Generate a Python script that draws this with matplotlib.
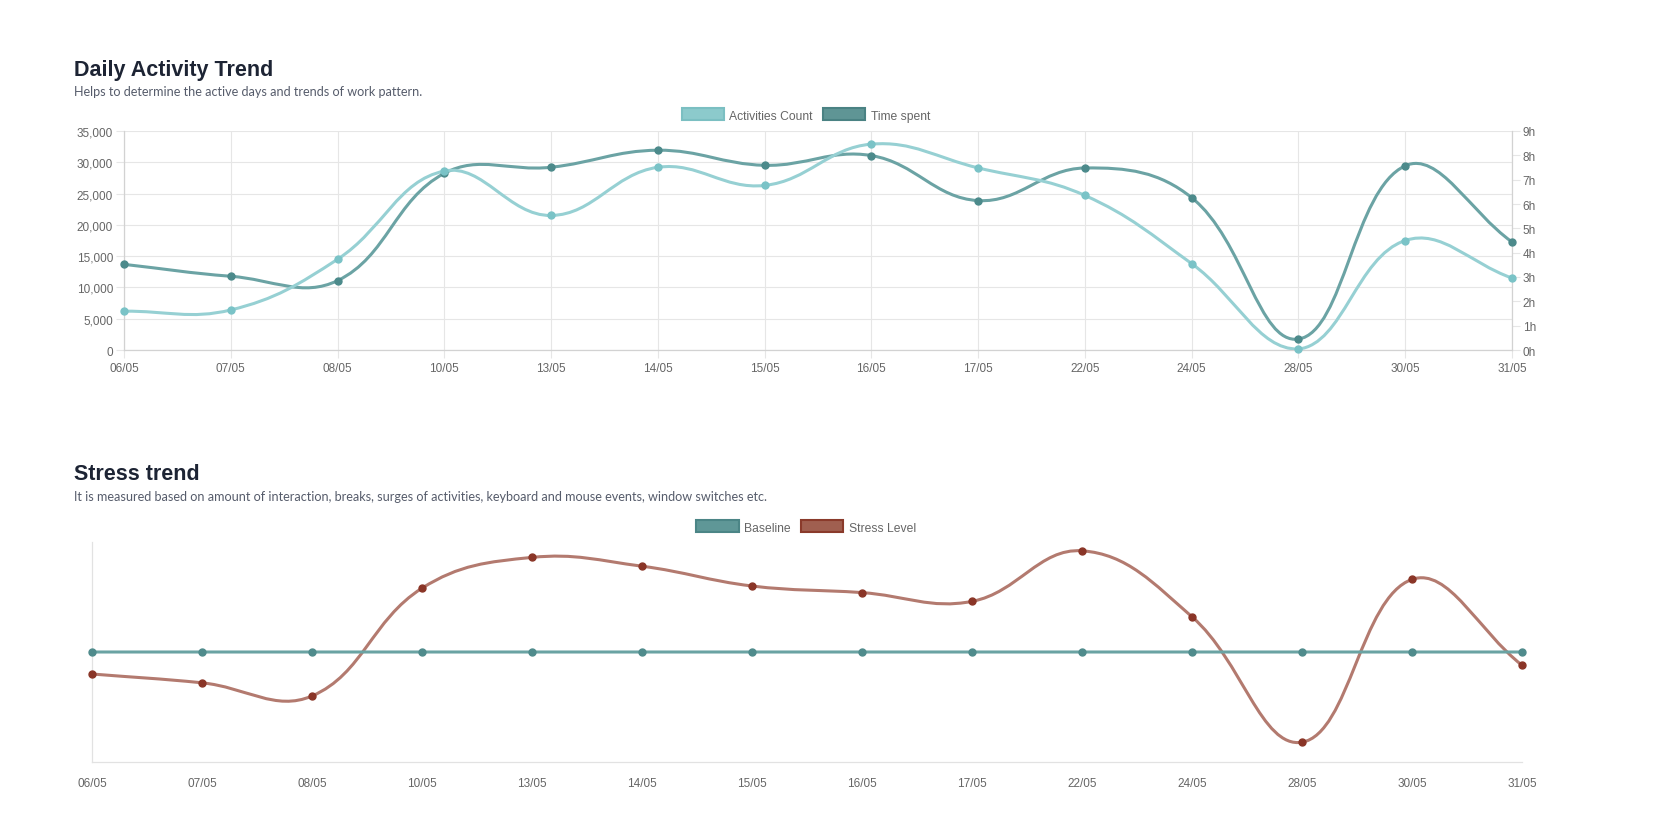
import numpy as np
import matplotlib
matplotlib.use("Agg")
import matplotlib.pyplot as plt
from matplotlib.path import Path
from matplotlib.patches import PathPatch, Patch
from matplotlib.ticker import FuncFormatter, MultipleLocator

dates = ["06/05", "07/05", "08/05", "10/05", "13/05", "14/05", "15/05",
         "16/05", "17/05", "22/05", "24/05", "28/05", "30/05", "31/05"]
activities = [6200, 6400, 14500, 28600, 21500, 29200, 26300,
              32900, 29100, 24700, 13800, 150, 17500, 11500]
hours_spent = [3.52, 3.03, 2.85, 7.26, 7.51, 8.21, 7.59,
               7.99, 6.14, 7.48, 6.26, 0.45, 7.57, 4.44]
baseline = [50, 50, 50, 50, 50, 50, 50, 50, 50, 50, 50, 50, 50, 50]
stress = [40, 36, 30, 79, 93, 89, 80, 77, 73, 96, 66, 9, 83, 44]

ACT_LINE, ACT_PT = "#96d0d3", "#7ac3c7"
TIME_LINE, TIME_PT = "#6ba3a4", "#4c8a8b"
BASE_LINE, BASE_PT = "#6aa3a3", "#4f8b8c"
STRESS_LINE, STRESS_PT = "#b37a6f", "#8a3527"
GRID = "#e6e6e6"
BORDER = "#d2d2d2"
TICK_TXT = "#666666"
TITLE_C = "#1d2434"
SUB_C = "#565c6b"

TICK_FONT = "Liberation Sans"
W, H = 1655, 829


def chartjs_curve(ax, xs, ys, color, lw=2.2, tension=0.4, zorder=2):
    """Cubic bezier through the points, the way chart.js builds it."""
    pts = ax.transData.transform(np.column_stack([xs, ys]))
    n = len(pts)
    x0, y0, x1, y1 = ax.bbox.extents
    before, after = [], []
    for i in range(n):
        prev = pts[i - 1] if i > 0 else pts[i]
        cur = pts[i]
        nxt = pts[i + 1] if i < n - 1 else pts[i]
        d01 = np.hypot(*(cur - prev))
        d12 = np.hypot(*(nxt - cur))
        tot = d01 + d12
        fa = tension * (d01 / tot if tot else 0)
        fb = tension * (d12 / tot if tot else 0)
        cp_a = np.clip(cur - fa * (nxt - prev), [x0, y0], [x1, y1])
        cp_b = np.clip(cur + fb * (nxt - prev), [x0, y0], [x1, y1])
        before.append(cp_a)
        after.append(cp_b)
    verts = [pts[0]]
    codes = [Path.MOVETO]
    for i in range(n - 1):
        verts += [after[i], before[i + 1], pts[i + 1]]
        codes += [Path.CURVE4] * 3
    data_verts = ax.transData.inverted().transform(np.array(verts))
    ax.add_patch(PathPatch(Path(data_verts, codes), facecolor="none",
                           edgecolor=color, lw=lw, zorder=zorder,
                           capstyle="round", joinstyle="round"))


def fx(px):
    return px / W


def fy(px):
    return 1 - px / H


fig = plt.figure(figsize=(16.55, 8.29), dpi=100)
fig.patch.set_facecolor("white")

x = np.arange(len(dates))

# ---------------- Daily Activity Trend ----------------
ax = fig.add_axes([fx(124), fy(351), fx(1512) - fx(124), fy(132) - fy(351)])
ax.set_xlim(0, len(dates) - 1)
ax.set_ylim(0, 35000)
ax.set_xticks(x)
ax.set_xticklabels(dates)
ax.yaxis.set_major_locator(MultipleLocator(5000))
ax.yaxis.set_major_formatter(FuncFormatter(lambda v, p: f"{int(v):,}"))
ax.grid(True, color=GRID, lw=0.8)
ax.set_axisbelow(True)
ax.tick_params(length=5.8, width=0.8, color=GRID, pad=2, labelsize=8.5,
               labelcolor=TICK_TXT)
ax.tick_params(axis="x", pad=3.2)
for s in ["left", "bottom"]:
    ax.spines[s].set_color(BORDER)
    ax.spines[s].set_linewidth(0.9)
ax.spines["top"].set_visible(False)
ax.spines["right"].set_visible(False)

ax_time = ax.twinx()
ax_time.set_ylim(0, 9)
ax_time.yaxis.set_major_locator(MultipleLocator(1))
ax_time.yaxis.set_major_formatter(FuncFormatter(lambda v, p: f"{int(v)}h"))
ax_time.tick_params(length=5.8, width=0.8, color=GRID, pad=2, labelsize=8.5,
                    labelcolor=TICK_TXT)
for s in ax_time.spines.values():
    s.set_visible(False)
ax_time.spines["right"].set_visible(True)
ax_time.spines["right"].set_color(BORDER)
ax_time.spines["right"].set_linewidth(0.9)

ax_act = ax.twinx()
ax_act.set_ylim(0, 35000)
ax_act.yaxis.set_visible(False)
for s in ax_act.spines.values():
    s.set_visible(False)

for a in (ax, ax_time, ax_act):
    for lab in a.get_xticklabels() + a.get_yticklabels():
        lab.set_family(TICK_FONT)

chartjs_curve(ax_time, x, hours_spent, TIME_LINE)
ax_time.plot(x, hours_spent, "o", ms=5, color=TIME_PT, zorder=3, clip_on=False)
chartjs_curve(ax_act, x, activities, ACT_LINE)
ax_act.plot(x, activities, "o", ms=5, color=ACT_PT, zorder=3, clip_on=False)

fig.text(fx(74), fy(76), "Daily Activity Trend", fontsize=15.5, fontweight="bold",
         family="Liberation Sans", color=TITLE_C, va="baseline", ha="left")
fig.text(fx(74), fy(92), "Helps to determine the active days and trends of work pattern.",
         fontsize=9.1, family="Lato", color=SUB_C, va="center", ha="left")

leg_kw = dict(loc="center", ncol=2, frameon=False, handlelength=3.5,
              handleheight=1.15, handletextpad=0.45, columnspacing=0.85,
              prop={"family": TICK_FONT, "size": 8.7}, labelcolor=TICK_TXT)
fig.legend(handles=[Patch(facecolor="#8ccacc", edgecolor="#7bbfc2", lw=1.5, label="Activities Count"),
                    Patch(facecolor="#5f9595", edgecolor="#4a8283", lw=1.5, label="Time spent")],
           bbox_to_anchor=(fx(806), fy(116)), **leg_kw)

# ---------------- Stress trend ----------------
bx = fig.add_axes([fx(92), fy(763), fx(1522) - fx(92), fy(543) - fy(763)])
bx.set_xlim(0, len(dates) - 1)
bx.set_ylim(0, 100)
bx.set_xticks(x)
bx.set_xticklabels(dates, family=TICK_FONT)
bx.set_yticks([])
bx.tick_params(axis="x", length=0, pad=10.5, labelsize=8.5, labelcolor=TICK_TXT)
bx.spines["top"].set_visible(False)
bx.spines["right"].set_visible(False)
for s in ["left", "bottom"]:
    bx.spines[s].set_color("#e2e2e2")
    bx.spines[s].set_linewidth(0.9)

chartjs_curve(bx, x, stress, STRESS_LINE, zorder=2)
bx.plot(x, stress, "o", ms=5, color=STRESS_PT, zorder=3, clip_on=False)
chartjs_curve(bx, x, baseline, BASE_LINE, zorder=4)
bx.plot(x, baseline, "o", ms=5, color=BASE_PT, zorder=5, clip_on=False)

fig.text(fx(74), fy(480), "Stress trend", fontsize=15.5, fontweight="bold",
         family="Liberation Sans", color=TITLE_C, va="baseline", ha="left")
fig.text(fx(74), fy(497),
         "It is measured based on amount of interaction, breaks, surges of activities, "
         "keyboard and mouse events, window switches etc.",
         fontsize=9.1, family="Lato", color=SUB_C, va="center", ha="left")

fig.legend(handles=[Patch(facecolor="#5f9797", edgecolor="#4b8586", lw=1.5, label="Baseline"),
                    Patch(facecolor="#a05f50", edgecolor="#8a3a2b", lw=1.5, label="Stress Level")],
           bbox_to_anchor=(fx(806), fy(528)), **leg_kw)

fig.savefig("out.png", dpi=100, facecolor="white")
